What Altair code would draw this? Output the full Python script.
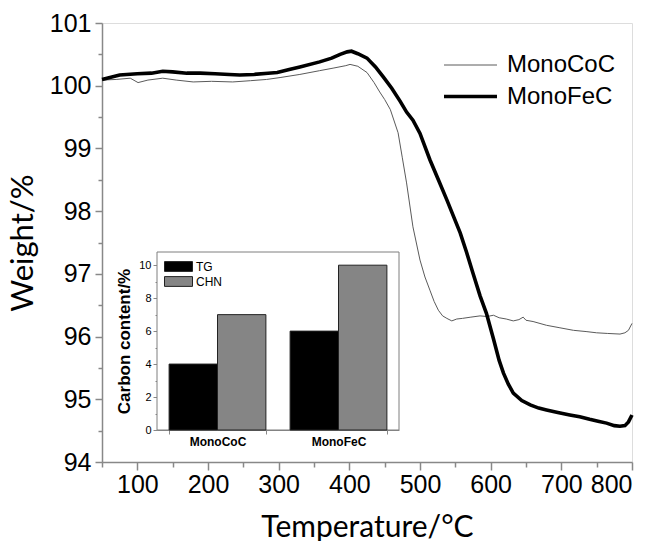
import altair as alt
import pandas as pd

# ---- main TG curves ----
T_co = [50, 70, 90, 101, 115, 136, 155, 179, 205, 235, 260, 283, 302, 330, 358, 377, 395, 401, 412,
        425, 435, 443, 450, 458, 469, 475, 481, 490, 500, 507, 514, 520, 526, 532, 538, 545, 552,
        560, 572, 585, 595, 604, 612, 622, 632, 640, 646, 650, 660, 679, 698, 717, 735, 750, 765,
        783, 790, 795, 800]
W_co = [100.09, 100.10, 100.12, 100.05, 100.09, 100.12, 100.09, 100.06, 100.07, 100.06, 100.08,
        100.10, 100.13, 100.18, 100.24, 100.28, 100.32, 100.34, 100.31, 100.21, 100.05, 99.90,
        99.78, 99.62, 99.25, 98.85, 98.45, 97.75, 97.22, 96.95, 96.74, 96.56, 96.42, 96.33, 96.29,
        96.25, 96.28, 96.29, 96.31, 96.33, 96.32, 96.34, 96.30, 96.28, 96.25, 96.27, 96.31, 96.26,
        96.24, 96.18, 96.14, 96.10, 96.08, 96.06, 96.05, 96.04, 96.06, 96.10, 96.21]

T_fe = [50, 75, 100, 120, 136, 150, 170, 189, 210, 230, 245, 265, 285, 298, 315, 330, 358, 375,
        387, 397, 403, 412, 425, 437, 448, 460, 472, 481, 490, 500, 514, 526, 538, 548, 557, 566,
        575, 585, 594, 604, 612, 618, 625, 632, 644, 656, 668, 679, 695, 712, 726, 740, 752, 764,
        775, 783, 790, 795, 800]
W_fe = [100.10, 100.17, 100.19, 100.20, 100.23, 100.22, 100.20, 100.20, 100.19, 100.18, 100.17,
        100.18, 100.20, 100.21, 100.26, 100.30, 100.38, 100.44, 100.50, 100.54, 100.55, 100.51,
        100.44, 100.30, 100.14, 99.96, 99.75, 99.58, 99.45, 99.24, 98.82, 98.50, 98.18, 97.90,
        97.65, 97.34, 97.01, 96.65, 96.37, 95.96, 95.62, 95.42, 95.24, 95.10, 94.98, 94.91, 94.86,
        94.83, 94.79, 94.75, 94.72, 94.68, 94.65, 94.62, 94.58, 94.57, 94.58, 94.64, 94.75]

samples = ["MonoCoC", "MonoFeC"]
x_major = [100, 200, 300, 400, 500, 600, 700, 800]
x_minor = [50, 150, 250, 350, 450, 550, 650, 750]
y_major = [94, 95, 96, 97, 98, 99, 100, 101]
y_minor = [94.5, 95.5, 96.5, 97.5, 98.5, 99.5, 100.5]

# ---- inset bars ----
methods = ["TG", "CHN"]
carbon_TG = [4, 6]
carbon_CHN = [7, 10]
inset_major = [0, 2, 4, 6, 8, 10]
inset_minor = [1, 3, 5, 7, 9]

curve_df = pd.concat([
    pd.DataFrame({"T": T_co, "W": W_co, "sample": samples[0]}),
    pd.DataFrame({"T": T_fe, "W": W_fe, "sample": samples[1]}),
])
bar_df = pd.DataFrame({
    "sample": samples * 2,
    "method": [methods[0]] * 2 + [methods[1]] * 2,
    "value": carbon_TG + carbon_CHN,
})

W, H = 530, 439
NUM = "Liberation Sans"
TTL = "Lato"

xs = alt.Scale(domain=[50, 800], nice=False, zero=False)
ys = alt.Scale(domain=[94, 101], nice=False, zero=False)

main_legend = dict(title=None, orient="none", legendX=353, legendY=28,
                   symbolType="M-2,0H2", symbolSize=702, labelFont=NUM,
                   labelFontSize=24, labelColor="black", labelOffset=21, rowPadding=4)

lines = alt.Chart(curve_df).mark_line().encode(
    x=alt.X("T:Q", scale=xs, axis=alt.Axis(
        values=x_major, format="d", orient="bottom", title="Temperature/°C",
        labelFont=NUM, labelFontSize=25, labelPadding=2, tickSize=8, tickWidth=1.5,
        domainWidth=1.5, titleFont=TTL, titleFontSize=30, titleFontWeight="normal",
        titlePadding=15, grid=False)),
    y=alt.Y("W:Q", scale=ys, axis=alt.Axis(
        values=y_major, format="d", orient="left", title="Weight/%",
        labelFont=NUM, labelFontSize=25, labelPadding=4, tickSize=7, tickWidth=1.5,
        domainWidth=1.5, titleFont=TTL, titleFontSize=31, titleFontWeight="normal",
        titlePadding=10, grid=False)),
    color=alt.Color("sample:N", scale=alt.Scale(domain=samples, range=["#5a5a5a", "#000000"]),
                    legend=alt.Legend(**main_legend)),
    strokeWidth=alt.StrokeWidth("sample:N", scale=alt.Scale(domain=samples, range=[1.0, 3.6]),
                                legend=alt.Legend(**main_legend)),
)

minor_x = alt.Chart(pd.DataFrame({"T": x_minor})).mark_point(opacity=0).encode(
    x=alt.X("T:Q", scale=xs, axis=alt.Axis(values=x_minor, labels=False, tickSize=5, tickWidth=1.5,
                                           domain=False, grid=False, title=None, orient="bottom")))
minor_y = alt.Chart(pd.DataFrame({"W": y_minor})).mark_point(opacity=0).encode(
    y=alt.Y("W:Q", scale=ys, axis=alt.Axis(values=y_minor, labels=False, tickSize=4, tickWidth=1.5,
                                           domain=False, grid=False, title=None, orient="left")))

main = alt.layer(lines, minor_x, minor_y).resolve_axis(x="independent", y="independent")

# ---- inset ----
L, R, Tp, B = 55, 297, 229, 407
iys = alt.Scale(domain=[0, 10.8], range=[B, Tp], nice=False, zero=True)

frame = alt.Chart(pd.DataFrame({"a": [0]})).mark_rect(fill="white", stroke="#7f7f7f", strokeWidth=1).encode(
    x=alt.value(L), x2=alt.value(R), y=alt.value(Tp), y2=alt.value(B))

bars = alt.Chart(bar_df).mark_bar(stroke="#222222", strokeWidth=1).encode(
    x=alt.X("sample:N", sort=samples,
            scale=alt.Scale(domain=samples, range=[L, R], paddingInner=0.2, paddingOuter=0.1),
            axis=alt.Axis(orient="bottom", offset=-(H - B), title=None, tickBand="extent",
                          labelFont=NUM, labelFontWeight="bold", labelFontSize=12, labelAngle=0,
                          labelPadding=2, tickSize=4, grid=False)),
    xOffset=alt.XOffset("method:N", sort=methods,
                        scale=alt.Scale(domain=methods, paddingInner=0, paddingOuter=0)),
    y=alt.Y("value:Q", scale=iys, axis=alt.Axis(
        orient="left", offset=-L, values=inset_major, title="Carbon content/%",
        labelFont=NUM, labelFontSize=11, labelPadding=2, tickSize=4, grid=False,
        titleFont=NUM, titleFontSize=17, titleFontWeight="bold", titlePadding=5)),
    fill=alt.Fill("method:N", scale=alt.Scale(domain=methods, range=["#000000", "#858585"]),
                  legend=alt.Legend(title=None, orient="none", legendX=69, legendY=236,
                                    symbolType="M-2,-0.7H2V0.7H-2Z", symbolSize=196,
                                    symbolStrokeColor="#222222", symbolStrokeWidth=1,
                                    labelFont=NUM, labelFontSize=12, labelColor="black",
                                    labelOffset=10, rowPadding=0)),
)

inset_ticks = alt.Chart(pd.DataFrame({"v": inset_minor})).mark_point(opacity=0).encode(
    y=alt.Y("v:Q", scale=iys, axis=alt.Axis(orient="left", offset=-L, values=inset_minor,
                                            labels=False, tickSize=2, domain=False, grid=False,
                                            title=None)))

inset = alt.layer(frame, bars, inset_ticks).resolve_axis(y="independent")

chart = alt.layer(main, inset).resolve_scale(x="independent", y="independent").properties(
    width=W, height=H,
    padding={"left": 102, "top": 23, "right": 23, "bottom": 79},
    autosize=alt.AutoSizeParams(type="none"),
).configure_view(stroke="black", strokeWidth=1.5).configure_axis(
    domainColor="black", tickColor="black", labelColor="black", titleColor="black"
).configure(background="white")

chart.save("out.html", embed_options={"renderer": "svg", "actions": False})
